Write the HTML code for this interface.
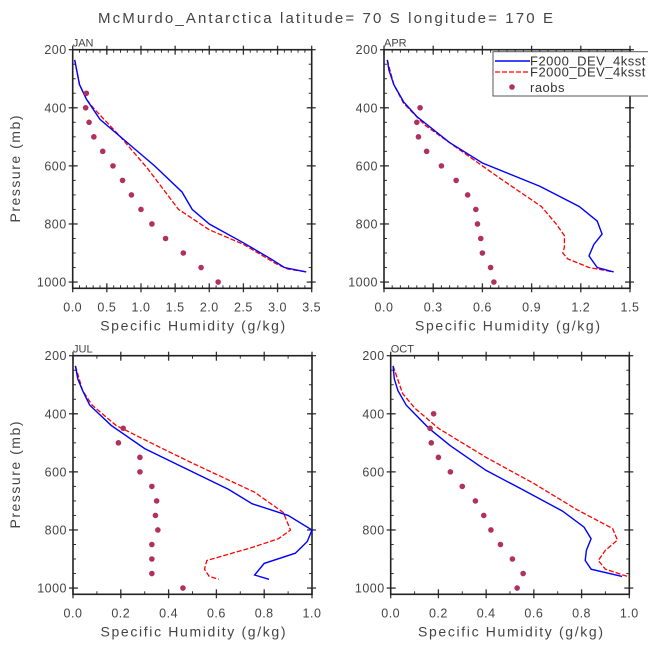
<!DOCTYPE html>
<html><head><meta charset="utf-8">
<style>
html,body{margin:0;padding:0;background:#fff;}
svg{display:block;font-family:"Liberation Sans",sans-serif;}
</style></head>
<body>
<svg id="chart" width="648" height="648" viewBox="0 0 648 648" xmlns="http://www.w3.org/2000/svg">
<rect width="648" height="648" fill="#fff"/>
<text x="98" y="23" font-size="15" fill="#444" textLength="455" lengthAdjust="spacing">McMurdo_Antarctica  latitude= 70 S longitude= 170 E</text>
</svg>
<script>
// ---- data ----
const panelNames = ["JAN","APR","JUL","OCT"];
const obsLevels = [350,400,450,500,550,600,650,700,750,800,850,900,950,1000];
const janObs = [0.2,0.19,0.24,0.31,0.44,0.59,0.73,0.86,1.0,1.16,1.36,1.62,1.88,2.13];
const aprObs = [null,0.22,0.2,0.21,0.26,0.35,0.44,0.51,0.56,0.57,0.59,0.6,0.65,0.67];
const julObs = [null,null,0.21,0.19,0.28,0.28,0.33,0.35,0.345,0.355,0.33,0.33,0.33,0.46];
const octObs = [null,0.18,0.165,0.17,0.2,0.25,0.3,0.355,0.39,0.42,0.46,0.51,0.555,0.53];

const janBlueP = [235,260,320,370,440,520,600,690,750,800,865,920,950,965];
const janBlueQ = [0.03,0.05,0.1,0.2,0.4,0.8,1.2,1.6,1.75,2.0,2.5,2.9,3.1,3.42];
const janRedP = [235,260,320,370,400,500,610,750,820,870,940,955,965];
const janRedQ = [0.03,0.05,0.1,0.2,0.3,0.7,1.1,1.55,2.0,2.5,3.0,3.15,3.42];

const aprBlueP = [235,270,320,380,430,520,590,670,740,790,835,870,910,950,965];
const aprBlueQ = [0.02,0.03,0.06,0.12,0.2,0.4,0.6,0.95,1.19,1.3,1.33,1.28,1.25,1.3,1.4];
const aprRedP = [235,320,385,460,560,640,740,800,840,880,900,920,950,965];
const aprRedQ = [0.02,0.06,0.12,0.25,0.5,0.7,0.96,1.05,1.1,1.1,1.09,1.12,1.25,1.4];

const julBlueP = [235,280,320,370,440,520,600,660,710,750,800,840,880,915,955,970];
const julBlueQ = [0.01,0.02,0.04,0.07,0.16,0.3,0.5,0.65,0.75,0.9,1.0,0.98,0.93,0.8,0.76,0.82];
const julRedP = [235,320,370,440,510,570,670,740,800,830,860,905,935,960,970];
const julRedQ = [0.01,0.04,0.08,0.18,0.35,0.5,0.76,0.88,0.91,0.86,0.75,0.56,0.55,0.57,0.61];

const octBlueP = [235,280,320,370,450,510,595,660,735,790,830,870,905,935,960];
const octBlueQ = [0.01,0.015,0.03,0.065,0.16,0.25,0.4,0.55,0.72,0.81,0.84,0.82,0.815,0.84,0.97];
const octRedP = [235,330,380,450,550,640,730,795,835,870,905,935,962];
const octRedQ = [0.01,0.05,0.1,0.2,0.4,0.6,0.78,0.93,0.95,0.9,0.87,0.9,1.0];

const xMaxes = [3.5,1.5,1.0,1.0];
const xMajor = [0.5,0.3,0.2,0.2];
const xMinor = [0.1,0.05,0.1,0.1];
const yTicks = [200,400,600,800,1000];

// ---- layout ----
const boxes = [
  {x0:72.7,x1:311.7,y0:49.7,y1:288.3},
  {x0:384,x1:630,y0:49.7,y1:288.3},
  {x0:73,x1:312,y0:355.7,y1:594.3},
  {x0:390.7,x1:629.3,y0:355.7,y1:594.3}
];
const obsSets=[janObs,aprObs,julObs,octObs];
const blue=[[janBlueP,janBlueQ],[aprBlueP,aprBlueQ],[julBlueP,julBlueQ],[octBlueP,octBlueQ]];
const red=[[janRedP,janRedQ],[aprRedP,aprRedQ],[julRedP,julRedQ],[octRedP,octRedQ]];
const NS="http://www.w3.org/2000/svg";
const svg=document.getElementById('chart');
function mk(tag,attrs,parent){const e=document.createElementNS(NS,tag);for(const k in attrs)e.setAttribute(k,attrs[k]);(parent||svg).appendChild(e);return e;}
const pTop=200,pBot=1021.5;
const keys=['jan','apr','jul','oct'];
boxes.forEach((b,i)=>{
  const g=mk('g',{});
  
  
  const xs=v=>b.x0+(b.x1-b.x0)*v/xMaxes[i];
  const ys=p=>b.y0+(b.y1-b.y0)*(p-pTop)/(pBot-pTop);
  const nMin=Math.round(xMaxes[i]/xMinor[i]);
  for(let k=0;k<=nMin;k++){const x=xs(k*xMinor[i]);
    mk('line',{x1:x,x2:x,y1:b.y1,y2:b.y1-3,stroke:'#333','stroke-width':1},g);
    mk('line',{x1:x,x2:x,y1:b.y0,y2:b.y0+3,stroke:'#333','stroke-width':1},g);}
  for(let p=200;p<=1000;p+=50){const y=ys(p);
    mk('line',{x1:b.x0,x2:b.x0+3,y1:y,y2:y,stroke:'#333','stroke-width':1},g);
    mk('line',{x1:b.x1,x2:b.x1-3,y1:y,y2:y,stroke:'#333','stroke-width':1},g);}
  const nMaj=Math.round(xMaxes[i]/xMajor[i]);
  for(let k=0;k<=nMaj;k++){const v=k*xMajor[i];const x=xs(v);
    mk('line',{x1:x,x2:x,y1:b.y1+4,y2:b.y1-5,stroke:'#333','stroke-width':1.3},g);
    mk('line',{x1:x,x2:x,y1:b.y0-4,y2:b.y0+5,stroke:'#333','stroke-width':1.3},g);
    const t=mk('text',{x:x,y:b.y1+23,'text-anchor':'middle','font-size':12.5,fill:'#444','letter-spacing':'0.5'},g);
    
    
    t.textContent=v.toFixed(1);}
  yTicks.forEach(p=>{const y=ys(p);
    mk('line',{x1:b.x0-4,x2:b.x0+5,y1:y,y2:y,stroke:'#333','stroke-width':1.3},g);
    mk('line',{x1:b.x1+4,x2:b.x1-5,y1:y,y2:y,stroke:'#333','stroke-width':1.3},g);
    const t=mk('text',{x:b.x0-6,y:y+4.5,'text-anchor':'end','font-size':12.5,fill:'#444','letter-spacing':'0.5'},g);
    
    
    t.textContent=p;});
  mk('rect',{x:b.x0,y:b.y0,width:b.x1-b.x0,height:b.y1-b.y0,fill:'none',stroke:'#222','stroke-width':1.6},g);
  const pl=mk('text',{x:b.x0,y:b.y0-3,'font-size':11,fill:'#444'},g);
  
  
  pl.textContent=panelNames[i];
  const xc=(b.x0+b.x1)/2;
  const xl=mk('text',{x:xc-92,y:b.y1+42,'font-size':14,fill:'#444',textLength:185,lengthAdjust:'spacing'},g);
  
  
  xl.textContent='Specific Humidity (g/kg)';
  if(i%2===0){const yc=(b.y0+b.y1)/2;
    const yl=mk('text',{x:20,y:yc,'text-anchor':'middle','font-size':14,fill:'#444',textLength:107,lengthAdjust:'spacing',transform:`rotate(-90 20 ${yc})`},g);
    
    
    yl.textContent='Pressure (mb)';}
  const path=(P,Q)=>P.map((p,k)=>(k?'L':'M')+xs(Q[k]).toFixed(1)+','+ys(p).toFixed(1)).join('');
  const r=mk('path',{d:path(red[i][0],red[i][1]),fill:'none',stroke:'#f00','stroke-width':1.3,'stroke-dasharray':'5,2'},g);
  
  
  const bl=mk('path',{d:path(blue[i][0],blue[i][1]),fill:'none',stroke:'#00f','stroke-width':1.4},g);
  
  
  obsSets[i].forEach((v,k)=>{if(v===null)return;
    const c=mk('circle',{cx:xs(v),cy:ys(obsLevels[k]),r:2.8,fill:'#b03060'},g);
    
    });
});
// legend
const lg=mk('g',{});


mk('rect',{x:493,y:51.7,width:160,height:44.3,fill:'#fff',stroke:'#555','stroke-width':1},lg);
mk('line',{x1:495,x2:530,y1:61,y2:61,stroke:'#00f','stroke-width':1.4},lg);
mk('line',{x1:495,x2:530,y1:72,y2:72,stroke:'#f00','stroke-width':1.3,'stroke-dasharray':'5,2'},lg);
mk('circle',{cx:512,cy:87,r:2.8,fill:'#b03060'},lg);
[['F2000_DEV_4ksst',65.5],['F2000_DEV_4ksst',76.5],['raobs',92]].forEach((a,k)=>{
  const t=mk('text',{x:530,y:a[1],'font-size':13,fill:'#333','letter-spacing':'0.5'},lg);
  
  
  t.textContent=a[0];});
</script>
</body></html>
